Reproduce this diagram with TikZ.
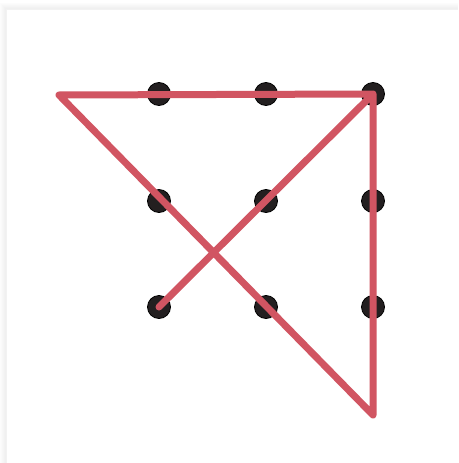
\documentclass[tikz,border=0pt]{standalone}
\begin{document}
\begin{tikzpicture}[x=1pt,y=-1pt,
  dot/.style={circle,fill=dotfill,draw=black,line width=0.8pt,minimum size=23pt,inner sep=0pt},
  redline/.style={draw=linered,line width=7pt,line cap=round,line join=round}]
\definecolor{dotfill}{HTML}{231F20}
\definecolor{linered}{HTML}{D15562}
\useasboundingbox (0,0) rectangle (458,463);
\fill[white] (0,0) rectangle (458,463);
% card shadow
\foreach \i/\c in {0/99,1/98,2/97,3/96,4/95,5/94,6/95} {
  \fill[black!\the\numexpr100-\c\relax] (\i,\i+3) rectangle (458,463);
}
\fill[white] (7,10) rectangle (458,463);
% dots
\node[dot] (d11) at (159,94) {};
\node[dot] (d12) at (266,94) {};
\node[dot] (d13) at (373,94) {};
\node[dot] (d21) at (159,201) {};
\node[dot] (d22) at (266,201) {};
\node[dot] (d23) at (373,201) {};
\node[dot] (d31) at (159,307) {};
\node[dot] (d32) at (266,307) {};
\node[dot] (d33) at (373,307) {};
\coordinate (bot) at (373,415);
\coordinate (left) at (59,95);
\path[redline] (d31.center) -- (d13.center) -- (bot) -- (left) -- (d13.center);
\end{tikzpicture}
\end{document}
